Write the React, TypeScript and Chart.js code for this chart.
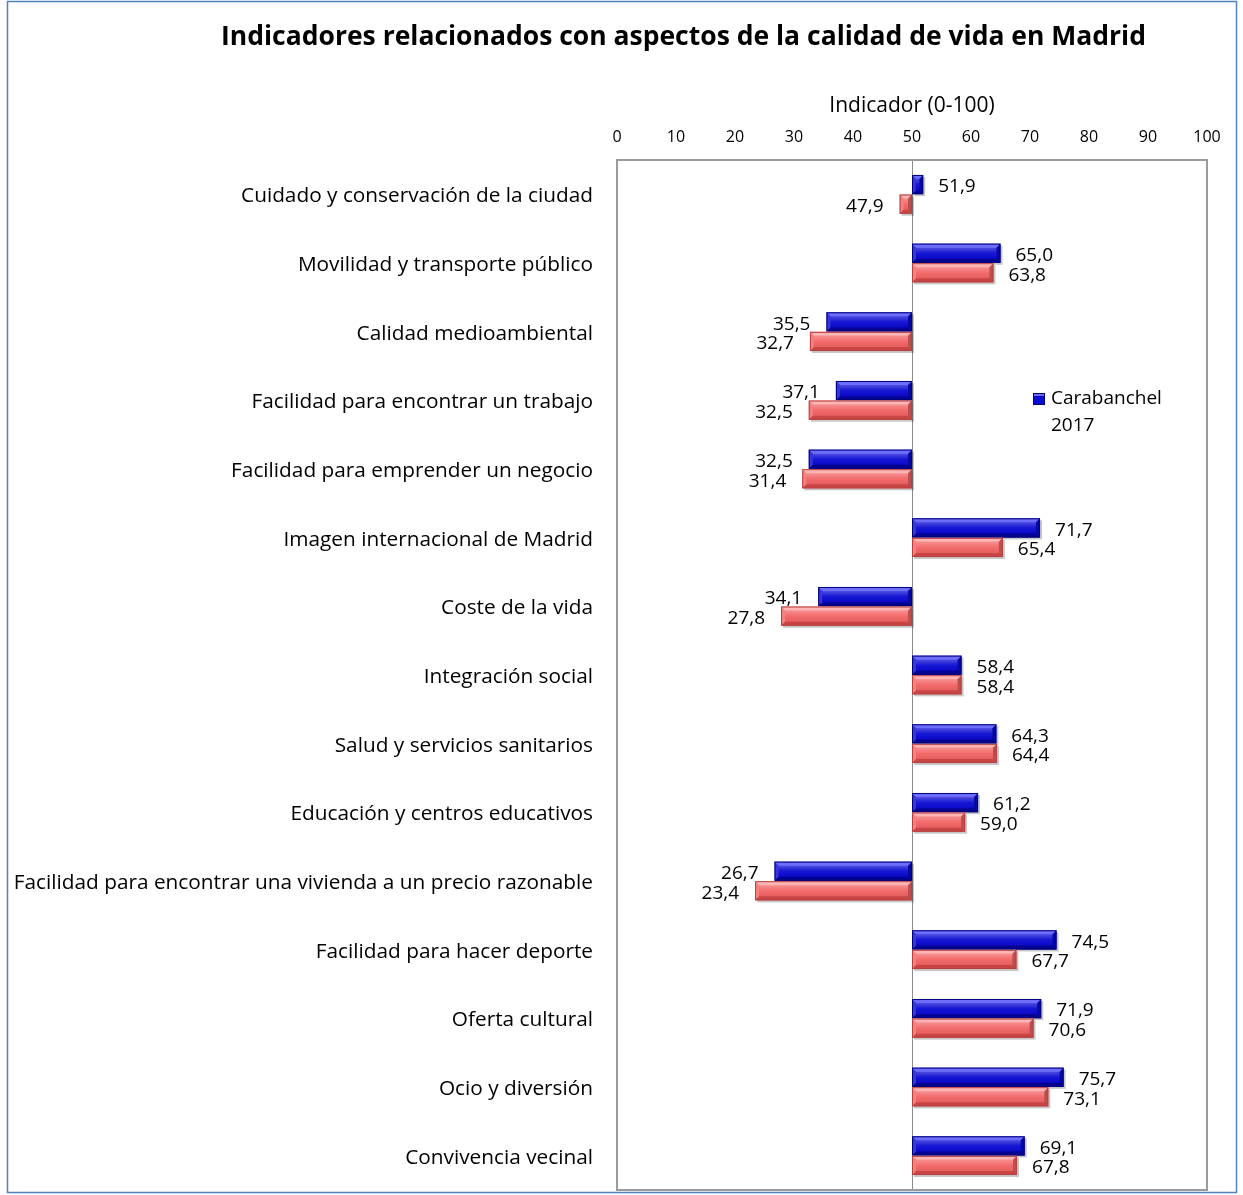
import React, { useEffect, useRef } from "react";
import { Chart, registerables } from "chart.js";

Chart.register(...registerables);

const chartTitle = "Indicadores relacionados con aspectos de la calidad de vida en Madrid";
const axisTitle = "Indicador (0-100)";

const categories = [
  "Cuidado y conservación de la ciudad",
  "Movilidad y transporte público",
  "Calidad medioambiental",
  "Facilidad para encontrar un trabajo",
  "Facilidad para emprender un negocio",
  "Imagen internacional de Madrid",
  "Coste de la vida",
  "Integración social",
  "Salud y servicios sanitarios",
  "Educación y centros educativos",
  "Facilidad para encontrar una vivienda a un precio razonable",
  "Facilidad para hacer deporte",
  "Oferta cultural",
  "Ocio y diversión",
  "Convivencia vecinal",
];

const carabanchel2017 = [51.9, 65.0, 35.5, 37.1, 32.5, 71.7, 34.1, 58.4, 64.3, 61.2, 26.7, 74.5, 71.9, 75.7, 69.1];
const madrid2017 = [47.9, 63.8, 32.7, 32.5, 31.4, 65.4, 27.8, 58.4, 64.4, 59.0, 23.4, 67.7, 70.6, 73.1, 67.8];

const legendLabels = ["Carabanchel", "2017"];
const seriesNames = ["Carabanchel 2017", "Madrid 2017"];

const baseValue = 50;
const xMin = 0;
const xMax = 100;
const xStep = 10;

const FONT = "'Open Sans', 'Noto Sans', sans-serif";

const fmt = (v: number) => v.toFixed(1).replace(".", ",");

const seriesStyles = [
  { fill: "#0a0ad2", light: "rgba(120,120,255,0.9)", dark: "rgba(0,0,90,0.55)", border: "#00007a" },
  { fill: "#f26464", light: "rgba(255,190,190,0.9)", dark: "rgba(150,30,30,0.45)", border: "#b84040" },
];

const decorPlugin = {
  id: "decor",
  beforeDraw(chart: any) {
    const { ctx, width, height } = chart;
    ctx.save();
    ctx.fillStyle = "#ffffff";
    ctx.fillRect(0, 0, width, height);
    ctx.strokeStyle = "#4f81bd";
    ctx.lineWidth = 1.5;
    ctx.strokeRect(7.5, 1.5, 1229, 1191);
    ctx.restore();
  },
  beforeDatasetsDraw(chart: any) {
    const { ctx, chartArea } = chart;
    ctx.save();
    ctx.strokeStyle = "#9a9a9a";
    ctx.lineWidth = 2;
    ctx.strokeRect(chartArea.left, chartArea.top, chartArea.right - chartArea.left, chartArea.bottom - chartArea.top);
    chart.data.datasets.forEach((_ds: any, di: number) => {
      const meta = chart.getDatasetMeta(di);
      meta.data.forEach((el: any) => {
        const p = el.getProps(["x", "y", "base", "height"], true);
        const l = Math.min(p.x, p.base);
        const r = Math.max(p.x, p.base);
        ctx.fillStyle = "rgba(0,0,0,0.22)";
        ctx.fillRect(l + 2, p.y - p.height / 2 + 2, r - l, p.height);
      });
    });
    ctx.restore();
  },
  afterDatasetsDraw(chart: any) {
    const { ctx } = chart;
    ctx.save();
    chart.data.datasets.forEach((_ds: any, di: number) => {
      const meta = chart.getDatasetMeta(di);
      const st = seriesStyles[di];
      meta.data.forEach((el: any) => {
        const p = el.getProps(["x", "y", "base", "height"], true);
        const l = Math.min(p.x, p.base);
        const r = Math.max(p.x, p.base);
        const t = p.y - p.height / 2;
        const b = p.y + p.height / 2;
        const h = b - t;
        const bev = Math.min(4, (r - l) / 3);
        ctx.fillStyle = st.light;
        ctx.beginPath();
        ctx.moveTo(l, t);
        ctx.lineTo(r, t);
        ctx.lineTo(r - bev, t + bev);
        ctx.lineTo(l + bev, t + bev);
        ctx.closePath();
        ctx.fill();
        const g = ctx.createLinearGradient(0, t + bev, 0, b - bev);
        g.addColorStop(0, "rgba(255,255,255,0.28)");
        g.addColorStop(0.5, "rgba(255,255,255,0.05)");
        g.addColorStop(1, "rgba(0,0,0,0.05)");
        ctx.fillStyle = g;
        ctx.fillRect(l + bev, t + bev, r - l - 2 * bev, h - 2 * bev);
        ctx.fillStyle = st.dark;
        ctx.beginPath();
        ctx.moveTo(l, b);
        ctx.lineTo(r, b);
        ctx.lineTo(r - bev, b - bev);
        ctx.lineTo(l + bev, b - bev);
        ctx.closePath();
        ctx.fill();
        ctx.fillStyle = "rgba(0,0,0,0.22)";
        ctx.beginPath();
        ctx.moveTo(r, t);
        ctx.lineTo(r, b);
        ctx.lineTo(r - bev, b - bev);
        ctx.lineTo(r - bev, t + bev);
        ctx.closePath();
        ctx.fill();
        ctx.fillStyle = "rgba(255,255,255,0.18)";
        ctx.beginPath();
        ctx.moveTo(l, t);
        ctx.lineTo(l, b);
        ctx.lineTo(l + bev, b - bev);
        ctx.lineTo(l + bev, t + bev);
        ctx.closePath();
        ctx.fill();
        ctx.strokeStyle = st.border;
        ctx.lineWidth = 1;
        ctx.strokeRect(l + 0.5, t + 0.5, r - l - 1, h - 1);
      });
    });
    ctx.fillStyle = "#000";
    ctx.font = `19px ${FONT}`;
    ctx.textBaseline = "middle";
    chart.data.datasets.forEach((ds: any, di: number) => {
      const meta = chart.getDatasetMeta(di);
      meta.data.forEach((el: any, i: number) => {
        const p = el.getProps(["x", "y", "base"], true);
        const l = Math.min(p.x, p.base);
        const r = Math.max(p.x, p.base);
        const v = ds.data[i][1];
        const txt = fmt(v);
        if (v >= baseValue) {
          ctx.textAlign = "left";
          ctx.fillText(txt, r + 15, p.y + 2.5);
        } else {
          ctx.textAlign = "right";
          ctx.fillText(txt, l - 16, p.y + 2.5);
        }
      });
    });
    ctx.restore();
  },
  afterDraw(chart: any) {
    const { ctx, chartArea } = chart;
    ctx.save();
    ctx.fillStyle = "#000";
    ctx.font = `bold 26.5px ${FONT}`;
    ctx.textAlign = "center";
    ctx.textBaseline = "middle";
    ctx.fillText(chartTitle, 683.5, 37);
    const lx = chartArea.left + 416;
    const ly = 399;
    const s = seriesStyles[0];
    ctx.fillStyle = s.fill;
    ctx.fillRect(lx, ly - 6, 12, 12);
    ctx.fillStyle = s.light;
    ctx.fillRect(lx, ly - 6, 12, 3);
    ctx.strokeStyle = s.border;
    ctx.lineWidth = 1;
    ctx.strokeRect(lx + 0.5, ly - 5.5, 11, 11);
    ctx.fillStyle = "#000";
    ctx.font = `19px ${FONT}`;
    ctx.textAlign = "left";
    ctx.fillText(legendLabels[0], lx + 18, ly);
    ctx.fillText(legendLabels[1], lx + 18, ly + 27);
    ctx.restore();
  },
};

export default function App() {
  const ref = useRef<HTMLCanvasElement | null>(null);
  useEffect(() => {
    if (!ref.current) return;
    const chart = new Chart(ref.current, {
      type: "bar",
      data: {
        labels: categories,
        datasets: [
          {
            label: seriesNames[0],
            data: carabanchel2017.map((v) => [baseValue, v]) as any,
            backgroundColor: seriesStyles[0].fill,
            borderWidth: 0,
            categoryPercentage: 0.57,
            barPercentage: 0.98,
          },
          {
            label: seriesNames[1],
            data: madrid2017.map((v) => [baseValue, v]) as any,
            backgroundColor: seriesStyles[1].fill,
            borderWidth: 0,
            categoryPercentage: 0.57,
            barPercentage: 0.98,
          },
        ],
      },
      options: {
        indexAxis: "y",
        animation: false,
        responsive: true,
        maintainAspectRatio: false,
        layout: { padding: { left: 0, right: 36, top: 82, bottom: 5 } },
        plugins: {
          legend: { display: false },
          title: { display: false },
          tooltip: { enabled: false },
        },
        scales: {
          x: {
            position: "top",
            min: xMin,
            max: xMax,
            ticks: {
              stepSize: xStep,
              color: "#000",
              font: { family: FONT, size: 16 },
              padding: 13,
            },
            grid: {
              drawTicks: false,
              color: (c: any) => (c.tick && c.tick.value === baseValue ? "#8a8a8a" : "rgba(0,0,0,0)"),
              lineWidth: 1,
            },
            border: { display: false },
            title: {
              display: true,
              text: axisTitle,
              color: "#000",
              font: { family: FONT, size: 21 },
              padding: { top: 11, bottom: 0 },
            },
            afterFit: (s: any) => {
              s.height = 78;
              s.paddingLeft = 0;
              s.paddingRight = 0;
            },
          },
          y: {
            ticks: {
              color: "#000",
              font: { family: FONT, size: 20.8 },
              padding: 24,
              labelOffset: 2,
              autoSkip: false,
            },
            grid: { display: false, drawTicks: false },
            border: { display: false },
            afterFit: (s: any) => {
              s.width = 617;
              s.paddingTop = 0;
              s.paddingBottom = 0;
            },
          },
        },
      },
      plugins: [decorPlugin],
    });
    return () => chart.destroy();
  }, []);
  return (
    <div style={{ position: "absolute", left: 0, top: 0, width: 1243, height: 1195 }}>
      <canvas ref={ref} />
    </div>
  );
}
